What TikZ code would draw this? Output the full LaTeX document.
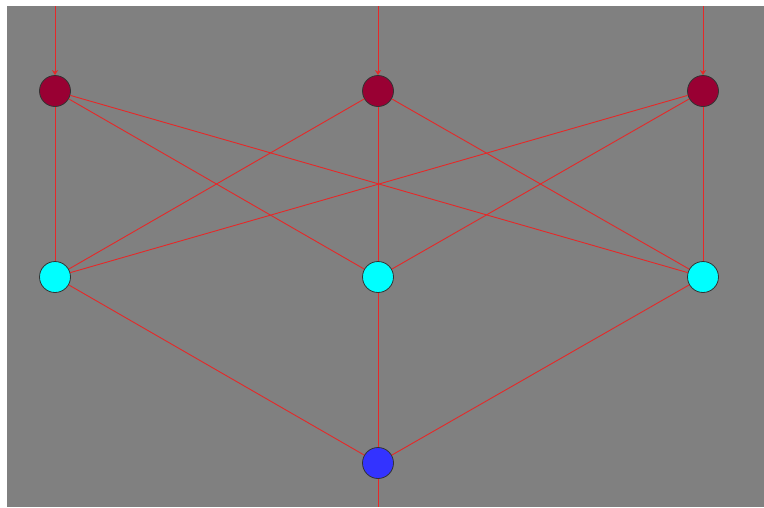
\documentclass[tikz,border=0pt]{standalone}
\usepackage{xcolor}
\usepackage{tikz}
\usetikzlibrary{arrows.meta, positioning, calc}
\definecolor{netgray}{RGB}{128, 128, 128}
\definecolor{netred}{RGB}{230, 40, 40}
\definecolor{inputcol}{RGB}{153, 0, 51}
\definecolor{hiddencol}{RGB}{0, 255, 255}
\definecolor{outputcol}{RGB}{51, 51, 255}

\begin{document}
\begin{tikzpicture}[
    x=1pt, y=-1pt,
    neuron/.style={circle, draw=black!80, line width=0.8pt, minimum size=31pt, inner sep=0pt},
    input/.style={neuron, fill=inputcol},
    hidden/.style={neuron, fill=hiddencol},
    output/.style={neuron, fill=outputcol},
    link/.style={draw=netred, line width=0.9pt},
    feed/.style={link, -{Stealth[length=5pt, width=6pt]}}
]
\useasboundingbox (0,0) rectangle (764,507);
\fill[netgray] (7,6) rectangle (764,507);

\coordinate (x1) at (55,6);
\coordinate (x2) at (378,6);
\coordinate (x3) at (703,6);
\coordinate (y) at (378,507);

\node[input] (in1) at (55,91) {};
\node[input] (in2) at (378,91) {};
\node[input] (in3) at (703,91) {};

\node[hidden] (hid1) at (55,277) {};
\node[hidden] (hid2) at (378,277) {};
\node[hidden] (hid3) at (703,277) {};

\node[output] (out) at (378,463) {};

\draw[feed] (x1) -- (in1);
\draw[feed] (x2) -- (in2);
\draw[feed] (x3) -- (in3);

\foreach \i in {1,2,3}{
    \foreach \j in {1,2,3}{
        \draw[link] (in\i) -- (hid\j);
    }
    \draw[link] (hid\i) -- (out);
}
\draw[link] (out) -- (y);

\end{tikzpicture}
\end{document}
